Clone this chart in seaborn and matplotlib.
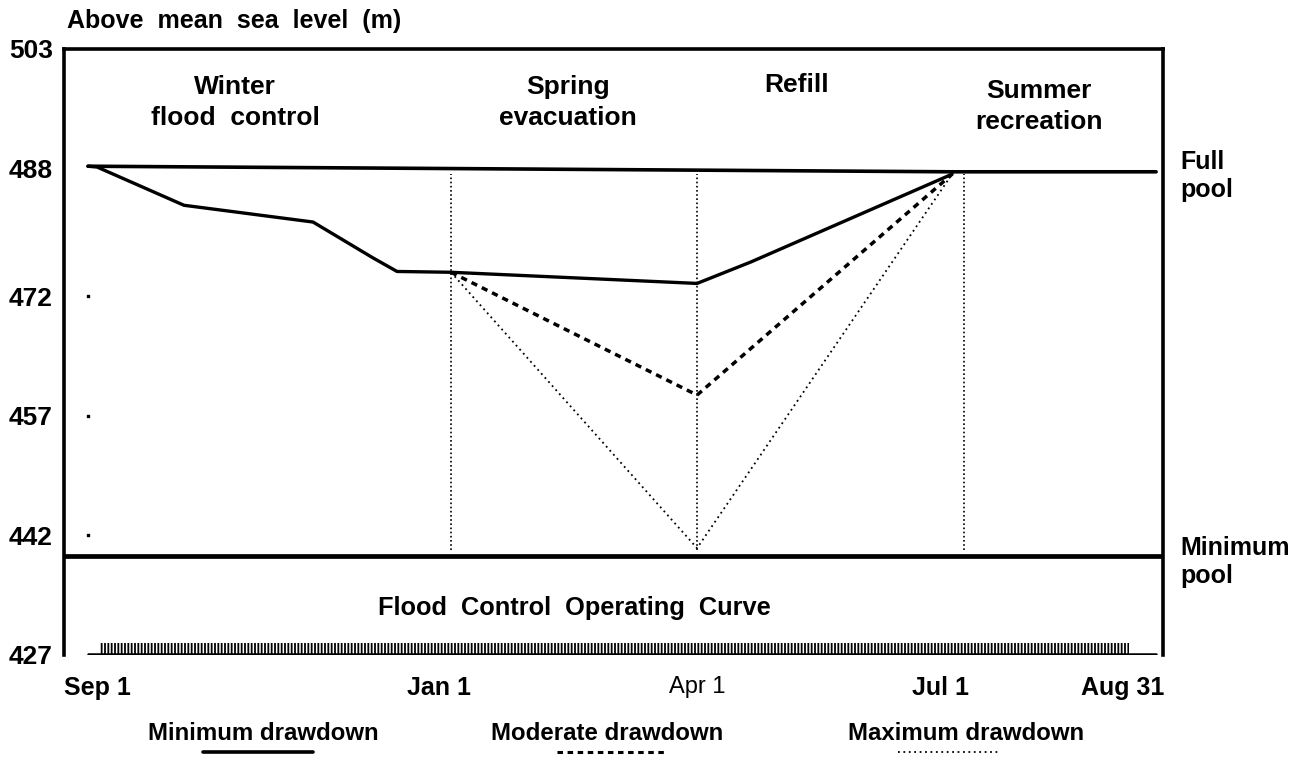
#!/usr/bin/env python3

import pandas as pd
import seaborn as sns
from matplotlib import pyplot as plt
from matplotlib.lines import Line2D

# schematic time axis: Sep 1 = 0, roughly 3 px per unit in the original
season_bounds = [121, 203, 292]          # Jan 1, Apr 1, Jul 1 dividers
date_labels = ['Sep 1', 'Jan 1', 'Apr 1', 'Jul 1', 'Aug 31']
date_label_pos = [3, 117, 203, 284, 345]

level_ticks = [503, 488, 472, 457, 442, 427]
tick_dots = [472, 457, 442]

full_pool_x = [0, 288, 356]
full_pool_y = [488.3, 487.6, 487.6]
min_pool_level = 439.4

min_x = [0, 3, 32, 75, 95, 103, 121, 203, 221, 288]
min_y = [488.3, 488.2, 483.4, 481.3, 476.8, 475.1, 475.0, 473.6, 476.3, 487.3]
mod_x = [121, 203, 288]
mod_y = [475.0, 459.6, 487.3]
max_x = [121, 203, 288]
max_y = [475.0, 440.4, 487.3]

divider_range = [440.2, 487.3]
curve_band_x = [4, 347]
curve_band_y = [427.1, 428.5]
curve_base_x = [0, 356]

seasons = ['Winter\nflood  control', 'Spring\nevacuation', 'Refill',
           'Summer\nrecreation']
season_x = [49, 160, 236, 317]
season_y = [496.3, 496.3, 498.5, 495.8]

legend_labels = ['Minimum drawdown', 'Moderate drawdown', 'Maximum drawdown']

sns.set_style('white')
plt.rcParams['font.family'] = ['Liberation Sans', 'DejaVu Sans']
plt.rcParams['hatch.linewidth'] = 1.3
plt.rcParams['text.color'] = 'black'
plt.rcParams['xtick.color'] = 'black'
plt.rcParams['ytick.color'] = 'black'

fig = plt.figure(figsize=(13.07, 7.57), dpi=100)
ax = fig.add_axes([64 / 1307, 102 / 757, 1099 / 1307, 606 / 757])

full = pd.DataFrame({'day': full_pool_x, 'level': full_pool_y})
mini = pd.DataFrame({'day': min_x, 'level': min_y})
mod = pd.DataFrame({'day': mod_x, 'level': mod_y})
maxi = pd.DataFrame({'day': max_x, 'level': max_y})

sns.lineplot(data=full, x='day', y='level', ax=ax, color='black', lw=2.6,
             sort=False)
sns.lineplot(data=mini, x='day', y='level', ax=ax, color='black', lw=2.4,
             sort=False)
sns.lineplot(data=mod, x='day', y='level', ax=ax, color='black', lw=2.5,
             sort=False, linestyle=(0, (1.8, 1.5)))
sns.lineplot(data=maxi, x='day', y='level', ax=ax, color='black', lw=1.3,
             sort=False, linestyle=(0, (1, 2)))

ax.vlines(season_bounds, *divider_range, color='black', lw=1.2,
          linestyles=(0, (1, 1.5)))
ax.axhline(min_pool_level, color='black', lw=3.4)

# flood control operating curve band
ax.fill_between(curve_band_x, curve_band_y[0], curve_band_y[1],
                facecolor='none', edgecolor='black', hatch='|||||', lw=0)
ax.plot(curve_base_x, [curve_band_y[0]] * 2, color='black', lw=1.8)
ax.scatter([0] * len(tick_dots), tick_dots, s=3, color='black', marker='s')

for lab, x, y in zip(seasons, season_x, season_y):
    ax.text(x, y, lab, ha='center', va='center', fontsize=19,
            fontweight='bold', linespacing=1.35)
ax.text(162, 432.9, 'Flood  Control  Operating  Curve', ha='center',
        va='center', fontsize=18.3, fontweight='bold')

ax.set_xlim(-8, 358.3)
ax.set_ylim(427, 503)
ax.set_yticks(level_ticks)
ax.set_yticklabels([str(v) for v in level_ticks], fontsize=19,
                   fontweight='bold')
ax.set_xticks(date_label_pos)
ax.set_xticklabels(date_labels, fontsize=18, fontweight='bold')
ax.get_xticklabels()[2].set_fontweight('normal')
ax.get_xticklabels()[2].set_fontsize(17)
ax.tick_params(axis='y', length=0, pad=8)
ax.tick_params(axis='x', length=0, pad=15)
ax.set_xlabel('')
ax.set_ylabel('')
for side in ('left', 'right', 'top'):
    ax.spines[side].set_linewidth(2.6)
    ax.spines[side].set_color('black')
ax.spines['bottom'].set_visible(False)

fig.text(67 / 1307, 1 - 21 / 757, 'Above  mean  sea  level  (m)',
         fontsize=18, fontweight='bold', va='center')
fig.text(1180 / 1307, 1 - 176 / 757, 'Full\npool', fontsize=18,
         fontweight='bold', va='center', linespacing=1.25)
fig.text(1180 / 1307, 1 - 562 / 757, 'Minimum\npool', fontsize=18,
         fontweight='bold', va='center', linespacing=1.25)

# legend: label with a line sample underneath
leg_x = [263 / 1307, 607 / 1307, 966 / 1307]
leg_spans = [(203, 313), (557, 665), (898, 1000)]
leg_styles = [('-', 2.6), ((0, (1.8, 1.5)), 2.2), ((0, (1, 2)), 1.3)]
for lab, x, span, (ls, lw) in zip(legend_labels, leg_x, leg_spans, leg_styles):
    fig.text(x, 1 - 733 / 757, lab, ha='center', va='center', fontsize=17.3,
             fontweight='bold')
    fig.add_artist(Line2D([span[0] / 1307, span[1] / 1307],
                          [1 - 752 / 757] * 2, transform=fig.transFigure,
                          color='black', ls=ls, lw=lw))

fig.savefig('out.png', dpi=100)
